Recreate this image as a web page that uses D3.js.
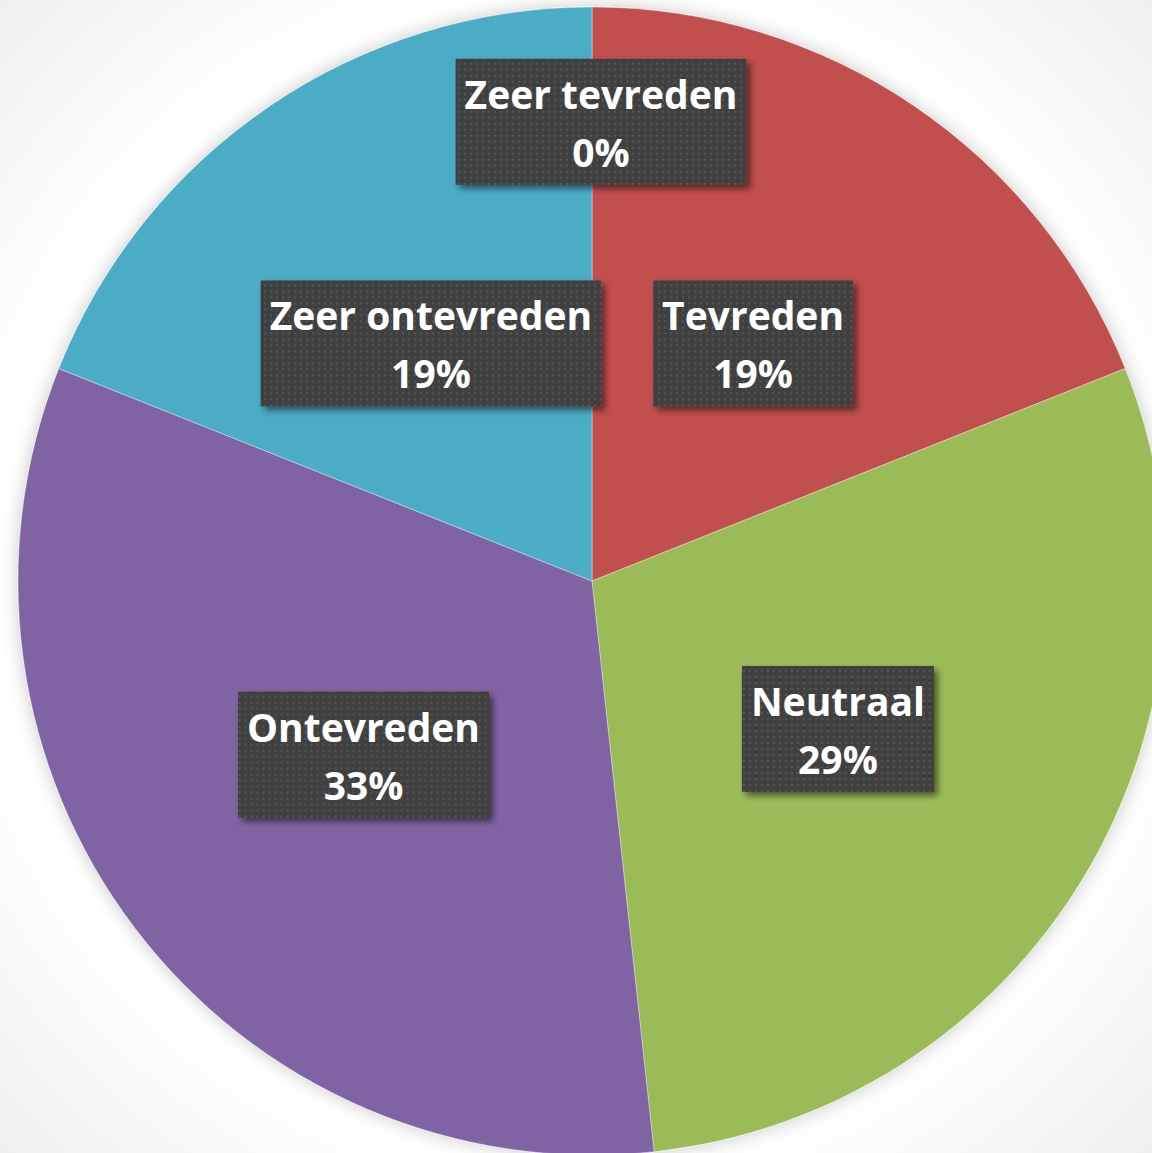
<!DOCTYPE html>
<html>
<head>
<meta charset="utf-8">
<script src="https://cdn.jsdelivr.net/npm/d3@7"></script>
<style>
  html, body { margin: 0; padding: 0; background: #f4f4f4; }
  svg { display: block; }
</style>
</head>
<body>
<div id="chart"></div>
<script>
// --- DATA ---
const categories = ["Zeer tevreden", "Tevreden", "Neutraal", "Ontevreden", "Zeer ontevreden"];
const counts = [0, 11, 17, 19, 11];
const percentLabels = ["0%", "19%", "29%", "33%", "19%"];
const colors = ["#4F81BD", "#C0504D", "#9BBB59", "#8064A2", "#4BACC6"];

// --- SETUP ---
const width = 1152, height = 1153;
const cx = 592, cy = 581, radius = 574;

const svg = d3.select("#chart").append("svg")
    .attr("width", width)
    .attr("height", height);

const defs = svg.append("defs");

// background gradient (white centre, light grey corners)
const bg = defs.append("radialGradient").attr("id", "bg")
    .attr("cx", "50%").attr("cy", "50%").attr("r", "72%");
bg.append("stop").attr("offset", "70%").attr("stop-color", "#ffffff");
bg.append("stop").attr("offset", "100%").attr("stop-color", "#efefef");

// soft glow round the pie
const glow = defs.append("filter").attr("id", "glow")
    .attr("x", "-10%").attr("y", "-10%").attr("width", "120%").attr("height", "120%");
glow.append("feGaussianBlur").attr("in", "SourceAlpha").attr("stdDeviation", 9).attr("result", "b");
glow.append("feFlood").attr("flood-color", "#000").attr("flood-opacity", 0.22);
glow.append("feComposite").attr("in2", "b").attr("operator", "in").attr("result", "s");
const gm = glow.append("feMerge");
gm.append("feMergeNode").attr("in", "s");
gm.append("feMergeNode").attr("in", "SourceGraphic");

// label box shadow
const shadow = defs.append("filter").attr("id", "shadow")
    .attr("x", "-10%").attr("y", "-10%").attr("width", "130%").attr("height", "140%");
shadow.append("feGaussianBlur").attr("in", "SourceAlpha").attr("stdDeviation", 3).attr("result", "b");
shadow.append("feOffset").attr("in", "b").attr("dx", 4).attr("dy", 4).attr("result", "o");
shadow.append("feFlood").attr("flood-color", "#000").attr("flood-opacity", 0.5);
shadow.append("feComposite").attr("in2", "o").attr("operator", "in").attr("result", "s");
const sm = shadow.append("feMerge");
sm.append("feMergeNode").attr("in", "s");
sm.append("feMergeNode").attr("in", "SourceGraphic");

// dotted texture for label boxes
const pat = defs.append("pattern").attr("id", "dots")
    .attr("width", 6).attr("height", 6).attr("patternUnits", "userSpaceOnUse");
pat.append("rect").attr("width", 6).attr("height", 6).attr("fill", "#404040");
pat.append("rect").attr("x", 1).attr("y", 1).attr("width", 2).attr("height", 2).attr("fill", "#555555");

svg.append("rect").attr("width", width).attr("height", height).attr("fill", "url(#bg)");

// --- PIE ---
const pie = d3.pie().sort(null).value(d => d)
    .startAngle(0).endAngle(2 * Math.PI);
const arcs = pie(counts);

const arc = d3.arc().innerRadius(0).outerRadius(radius);

const g = svg.append("g").attr("transform", `translate(${cx},${cy})`);

g.append("g").attr("filter", "url(#glow)")
  .selectAll("path")
  .data(arcs.filter(d => d.value > 0))
  .enter().append("path")
    .attr("d", arc)
    .attr("fill", d => colors[d.index])
    .attr("stroke", "rgba(255,255,255,0.35)")
    .attr("stroke-width", 1);

// --- LABELS ---
const labelArc = d3.arc().innerRadius(radius * 0.5).outerRadius(radius * 0.5);
const zeroArc = d3.arc().innerRadius(radius * 0.8).outerRadius(radius * 0.8);

const fontSize = 39, lineGap = 58, padX = 9;
const labels = g.append("g").selectAll("g")
  .data(arcs)
  .enter().append("g")
    .attr("transform", d => {
        const c = d.value > 0 ? labelArc.centroid(d) : zeroArc.centroid(d);
        const shift = d.value > 0 ? 0 : 9;   // Excel nudges the empty label
        return `translate(${c[0] + shift},${c[1]})`;
    });

labels.each(function(d) {
    const sel = d3.select(this);
    const box = sel.append("rect").attr("fill", "url(#dots)").attr("filter", "url(#shadow)");
    const t = sel.append("text")
        .attr("text-anchor", "middle")
        .attr("fill", "#ffffff")
        .style("font-family", "'Open Sans', Lato, sans-serif")
        .style("font-weight", 700)
        .style("font-size", fontSize + "px");
    t.append("tspan").attr("x", 0).attr("y", -lineGap / 2 + 16).text(categories[d.index]);
    t.append("tspan").attr("x", 0).attr("y", lineGap / 2 + 16).text(percentLabels[d.index]);
    const w = t.node().getBBox().width + padX * 2;
    box.attr("x", -w / 2).attr("y", -63).attr("width", w).attr("height", 126);
});
</script>
</body>
</html>
